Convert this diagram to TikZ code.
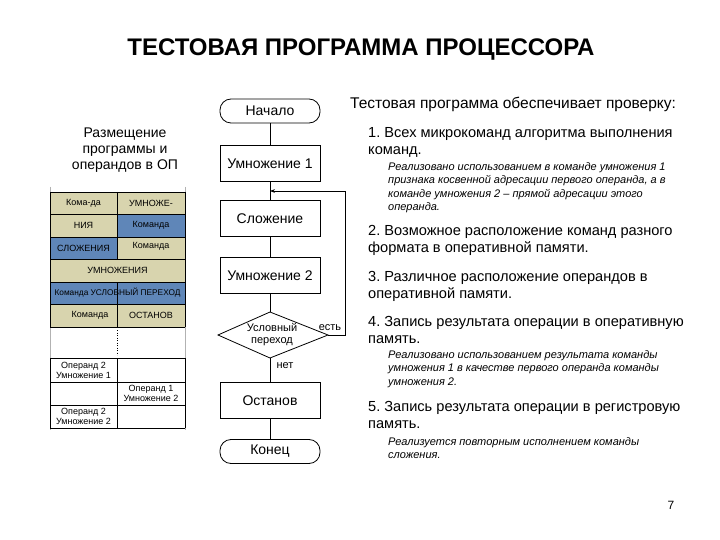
\documentclass[tikz,border=0pt]{standalone}
\usepackage{fontspec}
\setmainfont{Liberation Sans}
\usetikzlibrary{shapes.geometric,arrows.meta}
\definecolor{tan}{HTML}{D8D4AE}
\definecolor{cblue}{HTML}{5F86B8}
\frenchspacing
\tikzset{
 blk/.style={draw,line width=0.8pt,minimum width=100pt,minimum height=36pt,font=\fontsize{14}{16}\selectfont},
 term/.style={draw,line width=0.8pt,rounded corners=11pt,minimum width=100pt,minimum height=24pt,font=\fontsize{14}{16}\selectfont},
 ln/.style={line width=0.8pt},
 cell/.style={draw=black,line width=0.5pt},
 ct/.style={font=\fontsize{9}{10}\selectfont,align=center,inner sep=0pt},
 itm/.style={anchor=north west,font=\fontsize{14.6}{17}\selectfont,align=left,inner sep=0pt},
 itl/.style={anchor=north west,font=\itshape\fontsize{11}{13.5}\selectfont,align=left,inner sep=0pt},
}
\begin{document}
\begin{tikzpicture}[x=1pt,y=-1pt]
\useasboundingbox[fill=white] (0,0) rectangle (720,540);
\node[font=\bfseries\fontsize{24}{26}\selectfont] (title) at (361,50) {ТЕСТОВАЯ ПРОГРАММА ПРОЦЕССОРА};
% left caption
\node[font=\fontsize{14}{16}\selectfont,align=center] (cap) at (125,150) {Размещение\\программы и\\операндов в ОП};
% table
\draw[draw=gray!60,line width=0.6pt] (50,187) -- (50,430) (185,187) -- (185,430);
\fill[tan] (50,192) rectangle (185,214);
\fill[tan] (50,214) rectangle (117,237); \fill[cblue] (117,214) rectangle (185,237);
\fill[cblue] (50,237) rectangle (117,259); \fill[tan] (117,237) rectangle (185,259);
\fill[tan] (50,259) rectangle (185,282);
\fill[cblue] (50,282) rectangle (185,304);
\fill[tan] (50,304) rectangle (185,327);
\foreach \y in {192,214,237,259,282,304,327,358,382,405,428} \draw[cell] (50,\y) -- (185,\y);
\draw[cell] (117,192) -- (117,259) (117,282) -- (117,327) (117,358) -- (117,428);
\draw[cell] (50,192) -- (50,327) (185,192) -- (185,327) (50,358) -- (50,428) (185,358) -- (185,428);
\draw[cell,dotted,line width=0.8pt] (117,330) -- (117,355);
\node[ct] (c1) at (83.5,203) {Кома-да};
\node[ct] (c2) at (151,203) {УМНОЖЕ-};
\node[ct] (c3) at (83.5,225.5) {НИЯ};
\node[ct] (c4) at (151,225.5) {Команда};
\node[ct] (c5) at (83.5,248) {СЛОЖЕНИЯ};
\node[ct] (c6) at (151,246) {Команда};
\node[ct] (c7) at (117.5,270.5) {УМНОЖЕНИЯ};
\node[ct,font=\fontsize{8.3}{10}\selectfont] (c8) at (117.5,293) {Команда УСЛОВНЫЙ ПЕРЕХОД};
\node[ct] (c9) at (90,315.5) {Команда};
\node[ct] (c10) at (151,315.5) {ОСТАНОВ};
\node[ct] (c11) at (83.5,370) {Операнд 2\\Умножение 1};
\node[ct] (c12) at (151,393.5) {Операнд 1\\Умножение 2};
\node[ct] (c13) at (83.5,416.5) {Операнд 2\\Умножение 2};
% flowchart
\node[term] (start) at (270,111) {Начало};
\node[blk] (m1) at (270,163.5) {Умножение 1};
\node[blk] (add) at (270,218.5) {Сложение};
\node[blk] (m2) at (270,275.5) {Умножение 2};
\coordinate (dt) at (270,312);
\coordinate (db) at (270,358);
\coordinate (dl) at (218,335);
\coordinate (dr) at (328,335);
\draw[ln] (dt) -- (dr) -- (db) -- (dl) -- cycle;
\node[font=\fontsize{11}{12}\selectfont,align=center] (cond) at (272,335) {Условный\\переход};
\node[blk] (stop) at (270,400.5) {Останов};
\node[term] (end) at (270,451.5) {Конец};
\coordinate (join) at (270,191);
\coordinate (rc) at (345,335);
\coordinate (rt) at (345,191);
\draw[ln] (start) -- (m1);
\draw[ln] (m1) -- (add);
\draw[ln] (add) -- (m2);
\draw[ln] (m2) -- (dt);
\draw[ln] (db) -- (stop);
\draw[ln] (stop) -- (end);
\draw[ln,-{Stealth[length=5pt]}] (dr) -- (rc) -- (rt) -- (join);
\node[font=\fontsize{11}{12}\selectfont,anchor=south] (yes) at (330,334) {есть};
\node[font=\fontsize{11}{12}\selectfont,anchor=north west] (no) at (273,359) {нет};
% right text
\node[anchor=north west,font=\fontsize{15.5}{17}\selectfont,inner sep=0pt] (head) at (350,97) {Тестовая программа обеспечивает проверку:};
\node[itm] (i1) at (368,127) {1. Всех микрокоманд алгоритма выполнения\\команд.};
\node[itl] (e1) at (388,162) {Реализовано использованием в команде умножения 1\\признака косвенной адресации первого операнда, а в\\команде умножения 2 -- прямой адресации этого\\операнда.};
\node[itm] (i2) at (368,225) {2. Возможное расположение команд разного\\формата в оперативной памяти.};
\node[itm] (i3) at (368,271) {3. Различное расположение операндов в\\оперативной памяти.};
\node[itm] (i4) at (368,316) {4. Запись результата операции в оперативную\\память.};
\node[itl] (e4) at (388,350) {Реализовано использованием результата команды\\умножения 1 в качестве первого операнда команды\\умножения 2.};
\node[itm] (i5) at (368,401) {5. Запись результата операции в регистровую\\память.};
\node[itl] (e5) at (388,437) {Реализуется повторным исполнением команды\\сложения.};
\node[font=\fontsize{12}{14}\selectfont] (pg) at (671,505) {7};
\end{tikzpicture}
\end{document}
